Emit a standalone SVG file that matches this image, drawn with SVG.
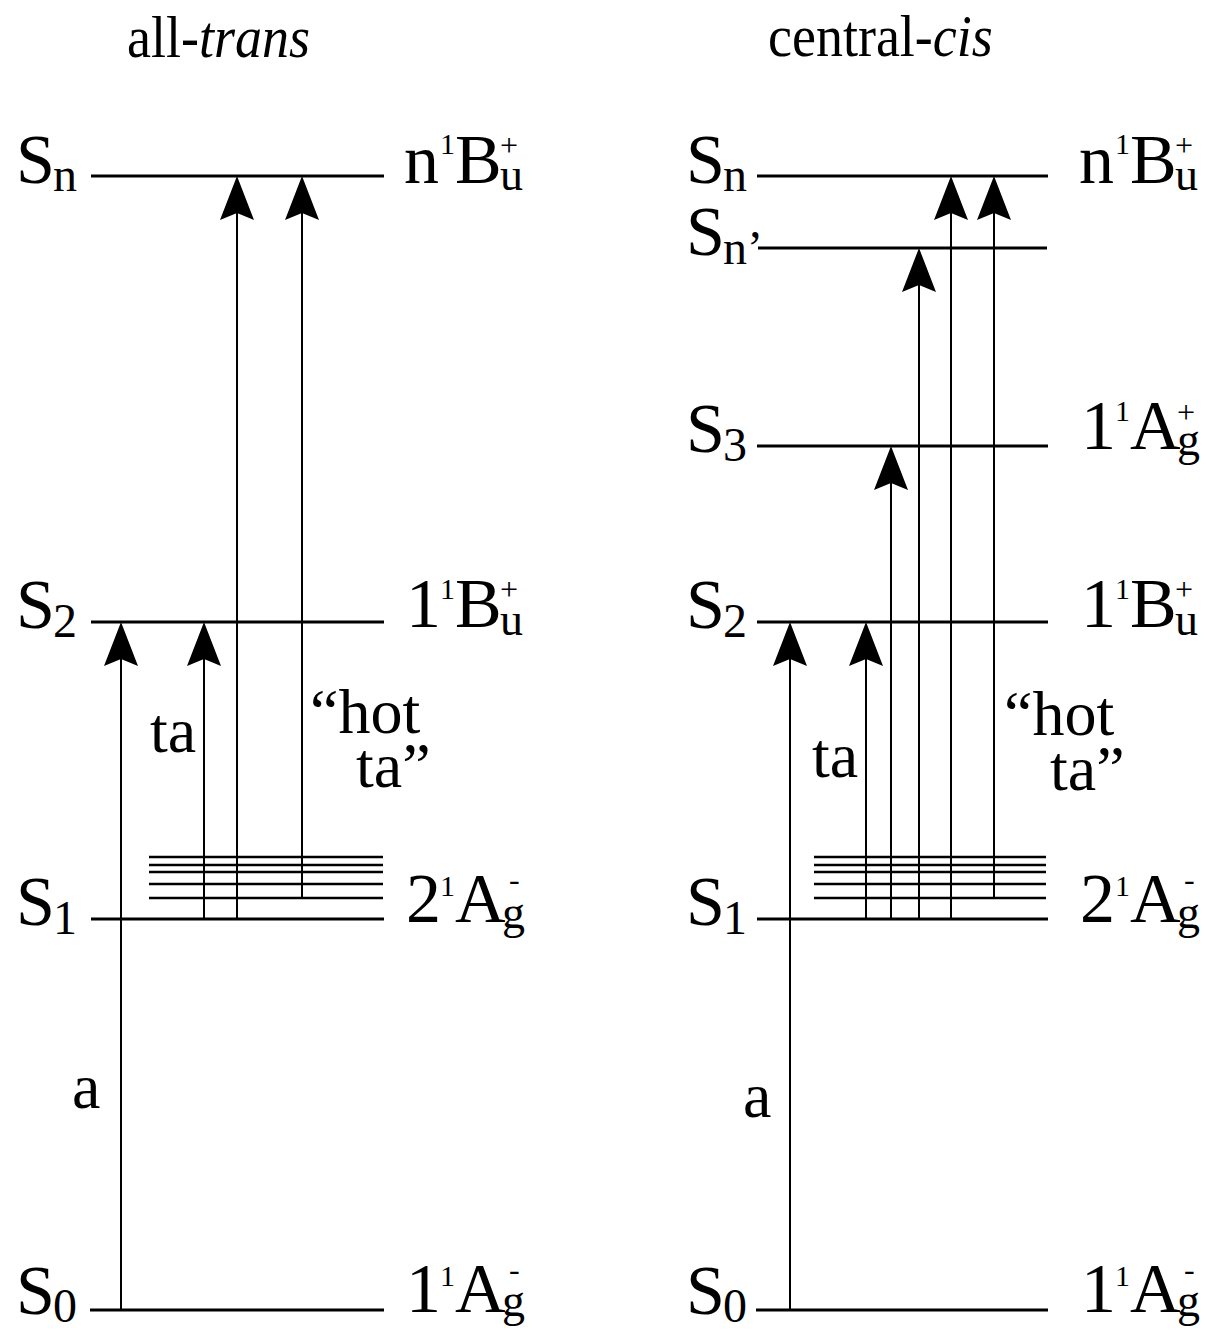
<svg xmlns="http://www.w3.org/2000/svg" width="1206" height="1330" viewBox="0 0 1206 1330">
<style>
.lv{stroke:#000;stroke-width:3;fill:none}
.vib{stroke:#000;stroke-width:2.5;fill:none}
.ar{stroke:#000;stroke-width:2;fill:none}
text{font-family:"Liberation Serif","Times New Roman",serif;fill:#000}
.tt{font-size:54px}
.big{font-size:70px}
.lab{font-size:64px}
.sub{font-size:48px}
.sup1{font-size:30px}
.pm{font-size:32px}
.su{font-size:46px}
</style>
<defs>
<path id="ah" d="M0,0 L17,44 L0,37 L-17,44 Z" fill="#000"/>
</defs>
<rect width="1206" height="1330" fill="#fff"/>

<!-- Titles -->
<g id="title-left"><text class="tt" transform="translate(127,57) scale(1,1.08)">all-<tspan font-style="italic">trans</tspan></text></g>
<g id="title-right"><text class="tt" transform="translate(768,56) scale(1,1.08)">central-<tspan font-style="italic">cis</tspan></text></g>

<!-- LEFT PANEL: all-trans -->
<g id="L-Sn">
<line class="lv" x1="91" y1="176" x2="384" y2="176"/>
<text class="big" x="16" y="183">S</text><text class="sub" x="53" y="191">n</text>
<text class="big" x="404" y="183">n</text><text class="sup1" x="440" y="154">1</text><text class="big" x="455" y="183">B</text><text class="pm" x="500" y="156">+</text><text class="su" x="500" y="190">u</text>
</g>
<g id="L-S2">
<line class="lv" x1="91" y1="622" x2="384" y2="622"/>
<text class="big" x="16" y="628">S</text><text class="sub" x="53" y="637">2</text>
<text class="big" x="406" y="627">1</text><text class="sup1" x="440" y="599">1</text><text class="big" x="455" y="627">B</text><text class="pm" x="500" y="600">+</text><text class="su" x="500" y="635">u</text>
</g>
<g id="L-S1">
<line class="lv" x1="91" y1="919" x2="384" y2="919"/>
<text class="big" x="16" y="925">S</text><text class="sub" x="53" y="934">1</text>
<text class="big" x="406" y="922">2</text><text class="sup1" x="440" y="896">1</text><text class="big" x="455" y="922">A</text><text class="pm" x="509" y="890">-</text><text class="su" x="502" y="928">g</text>
</g>
<g id="L-S1-vib">
<line class="vib" x1="149" y1="857" x2="383" y2="857"/>
<line class="vib" x1="149" y1="865" x2="383" y2="865"/>
<line class="vib" x1="149" y1="872" x2="383" y2="872"/>
<line class="vib" x1="149" y1="884" x2="383" y2="884"/>
<line class="vib" x1="149" y1="898" x2="383" y2="898"/>
</g>
<g id="L-S0">
<line class="lv" x1="90" y1="1310" x2="384" y2="1310"/>
<text class="big" x="16" y="1314">S</text><text class="sub" x="53" y="1322">0</text>
<text class="big" x="406" y="1312">1</text><text class="sup1" x="440" y="1286">1</text><text class="big" x="455" y="1312">A</text><text class="pm" x="509" y="1280">-</text><text class="su" x="502" y="1316">g</text>
</g>

<!-- RIGHT PANEL: central-cis -->
<g id="R-Sn">
<line class="lv" x1="757" y1="176" x2="1048" y2="176"/>
<text class="big" x="686" y="183">S</text><text class="sub" x="723" y="191">n</text>
<text class="big" x="1079" y="183">n</text><text class="sup1" x="1115" y="154">1</text><text class="big" x="1130" y="183">B</text><text class="pm" x="1175" y="156">+</text><text class="su" x="1175" y="190">u</text>
</g>
<g id="R-Snp">
<line class="lv" x1="758" y1="248" x2="1047" y2="248"/>
<text class="big" x="686" y="255">S</text><text class="sub" x="723" y="264">n’</text>
</g>
<g id="R-S3">
<line class="lv" x1="757" y1="446" x2="1048" y2="446"/>
<text class="big" x="686" y="452">S</text><text class="sub" x="723" y="461">3</text>
<text class="big" x="1081" y="449">1</text><text class="sup1" x="1115" y="421">1</text><text class="big" x="1130" y="449">A</text><text class="pm" x="1177" y="423">+</text><text class="su" x="1177" y="455">g</text>
</g>
<g id="R-S2">
<line class="lv" x1="757" y1="622" x2="1048" y2="622"/>
<text class="big" x="686" y="628">S</text><text class="sub" x="723" y="637">2</text>
<text class="big" x="1081" y="627">1</text><text class="sup1" x="1115" y="599">1</text><text class="big" x="1130" y="627">B</text><text class="pm" x="1175" y="600">+</text><text class="su" x="1175" y="635">u</text>
</g>
<g id="R-S1">
<line class="lv" x1="757" y1="919" x2="1048" y2="919"/>
<text class="big" x="686" y="925">S</text><text class="sub" x="723" y="934">1</text>
<text class="big" x="1080" y="922">2</text><text class="sup1" x="1115" y="896">1</text><text class="big" x="1130" y="922">A</text><text class="pm" x="1184" y="890">-</text><text class="su" x="1177" y="928">g</text>
</g>
<g id="R-S1-vib">
<line class="vib" x1="814" y1="857" x2="1046" y2="857"/>
<line class="vib" x1="814" y1="865" x2="1046" y2="865"/>
<line class="vib" x1="814" y1="872" x2="1046" y2="872"/>
<line class="vib" x1="814" y1="884" x2="1046" y2="884"/>
<line class="vib" x1="814" y1="898" x2="1046" y2="898"/>
</g>
<g id="R-S0">
<line class="lv" x1="756" y1="1310" x2="1048" y2="1310"/>
<text class="big" x="686" y="1314">S</text><text class="sub" x="723" y="1322">0</text>
<text class="big" x="1081" y="1312">1</text><text class="sup1" x="1115" y="1286">1</text><text class="big" x="1130" y="1312">A</text><text class="pm" x="1184" y="1280">-</text><text class="su" x="1177" y="1316">g</text>
</g>

<!-- Connectors -->
<g id="connectors">
<line class="ar" x1="121" y1="1310" x2="121" y2="655"/><use href="#ah" x="121" y="622"/>
<line class="ar" x1="204" y1="919" x2="204" y2="655"/><use href="#ah" x="204" y="622"/>
<line class="ar" x1="237" y1="919" x2="237" y2="209"/><use href="#ah" x="237" y="176"/>
<line class="ar" x1="302" y1="898" x2="302" y2="209"/><use href="#ah" x="302" y="176"/>

<line class="ar" x1="790" y1="1310" x2="790" y2="655"/><use href="#ah" x="790" y="622"/>
<line class="ar" x1="866" y1="919" x2="866" y2="655"/><use href="#ah" x="866" y="622"/>
<line class="ar" x1="891" y1="919" x2="891" y2="479"/><use href="#ah" x="891" y="446"/>
<line class="ar" x1="919" y1="919" x2="919" y2="281"/><use href="#ah" x="919" y="248"/>
<line class="ar" x1="951" y1="919" x2="951" y2="209"/><use href="#ah" x="951" y="176"/>
<line class="ar" x1="994" y1="898" x2="994" y2="209"/><use href="#ah" x="994" y="176"/>
</g>

<!-- Transition labels -->
<g id="labels">
<text class="lab" x="150" y="752">ta</text>
<text class="lab" x="310" y="733">“hot</text>
<text class="lab" x="356" y="787">ta”</text>
<text class="lab" x="72" y="1108">a</text>
<text class="lab" x="812" y="777">ta</text>
<text class="lab" x="1004" y="735">“hot</text>
<text class="lab" x="1050" y="790">ta”</text>
<text class="lab" x="743" y="1117">a</text>
</g>
</svg>
